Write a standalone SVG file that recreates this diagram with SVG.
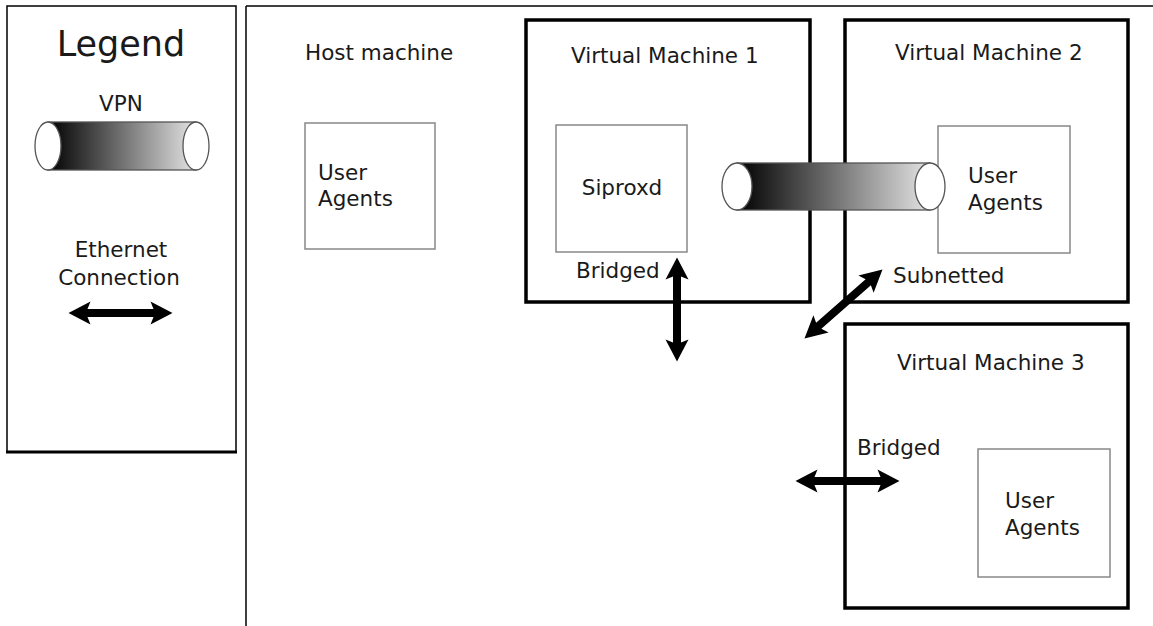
<svg xmlns="http://www.w3.org/2000/svg" width="1153" height="626" viewBox="0 0 1153 626">
<style>
text{font-family:"DejaVu Sans",sans-serif;fill:#1a1a1a;font-size:21.5px}
.big{font-size:35px}
.vm{fill:none;stroke:#000;stroke-width:3.5}
.ua{fill:#fff;stroke:#888;stroke-width:1.5}
.cap{fill:#fff;stroke:#555;stroke-width:1.3}
.tube{stroke:#555;stroke-width:1.3}
</style>
<defs>
<linearGradient id="g" x1="0" x2="1" y1="0" y2="0">
<stop offset="0" stop-color="#000"/>
<stop offset="1" stop-color="#e4e4e4"/>
</linearGradient>
<path id="arr" d="M-52 0 L-30 -11.5 L-33 -4 L33 -4 L30 -11.5 L52 0 L30 11.5 L33 4 L-33 4 L-30 11.5 Z" fill="#000"/>
</defs>
<rect width="1153" height="626" fill="#fff"/>
<g id="legend">
<rect x="7" y="6" width="229" height="446" fill="none" stroke="#000" stroke-width="1.5"/>
<line x1="6" y1="452" x2="237" y2="452" stroke="#000" stroke-width="3"/>
<text x="121" y="56" text-anchor="middle" class="big">Legend</text>
<text x="121" y="111" text-anchor="middle">VPN</text>
<rect x="48" y="122" width="148" height="48" fill="url(#g)" class="tube"/>
<ellipse cx="48" cy="146" rx="13" ry="24" class="cap"/>
<ellipse cx="196" cy="146" rx="13" ry="24" class="cap"/>
<text x="121" y="257" text-anchor="middle">Ethernet</text>
<text x="119" y="285" text-anchor="middle">Connection</text>
<use href="#arr" transform="translate(120.5 313)"/>
</g>
<g id="host">
<line x1="246" y1="6" x2="246" y2="626" stroke="#000" stroke-width="1.5"/>
<line x1="246" y1="6" x2="1153" y2="6" stroke="#000" stroke-width="1.5"/>
<text x="305" y="60">Host machine</text>
</g>
<g id="host-ua">
<rect x="305" y="123" width="130" height="126" class="ua"/>
<text x="318" y="180">User</text>
<text x="318" y="206">Agents</text>
</g>
<g id="vm1">
<rect x="526" y="20" width="284" height="282" class="vm"/>
<text x="571" y="63">Virtual Machine 1</text>
</g>
<g id="siproxd">
<rect x="556" y="125" width="131" height="127" class="ua"/>
<text x="622" y="195" text-anchor="middle">Siproxd</text>
</g>
<g id="vm2">
<rect x="845" y="20" width="283" height="282" class="vm"/>
<text x="895" y="60">Virtual Machine 2</text>
</g>
<g id="vm2-ua">
<rect x="938" y="126" width="132" height="127" class="ua"/>
<text x="968" y="183">User</text>
<text x="968" y="210">Agents</text>
</g>
<g id="vm3">
<rect x="845" y="324" width="283" height="284" class="vm"/>
<text x="897" y="370">Virtual Machine 3</text>
</g>
<g id="vm3-ua">
<rect x="978" y="449" width="132" height="128" class="ua"/>
<text x="1005" y="508">User</text>
<text x="1005" y="535">Agents</text>
</g>
<g id="labels">
<text x="576" y="278">Bridged</text>
<text x="893" y="283">Subnetted</text>
<text x="857" y="455">Bridged</text>
</g>
<g id="connectors">
<g id="vpn">
<rect x="737" y="163" width="193" height="47" fill="url(#g)" class="tube"/>
<ellipse cx="737" cy="186.5" rx="15" ry="23.5" class="cap"/>
<ellipse cx="930" cy="186.5" rx="15" ry="23.5" class="cap"/>
</g>
<use href="#arr" transform="translate(677 309.5) rotate(90)"/>
<use href="#arr" transform="translate(843.5 304) rotate(-41.4)"/>
<use href="#arr" transform="translate(847.5 481)"/>
</g>
</svg>
